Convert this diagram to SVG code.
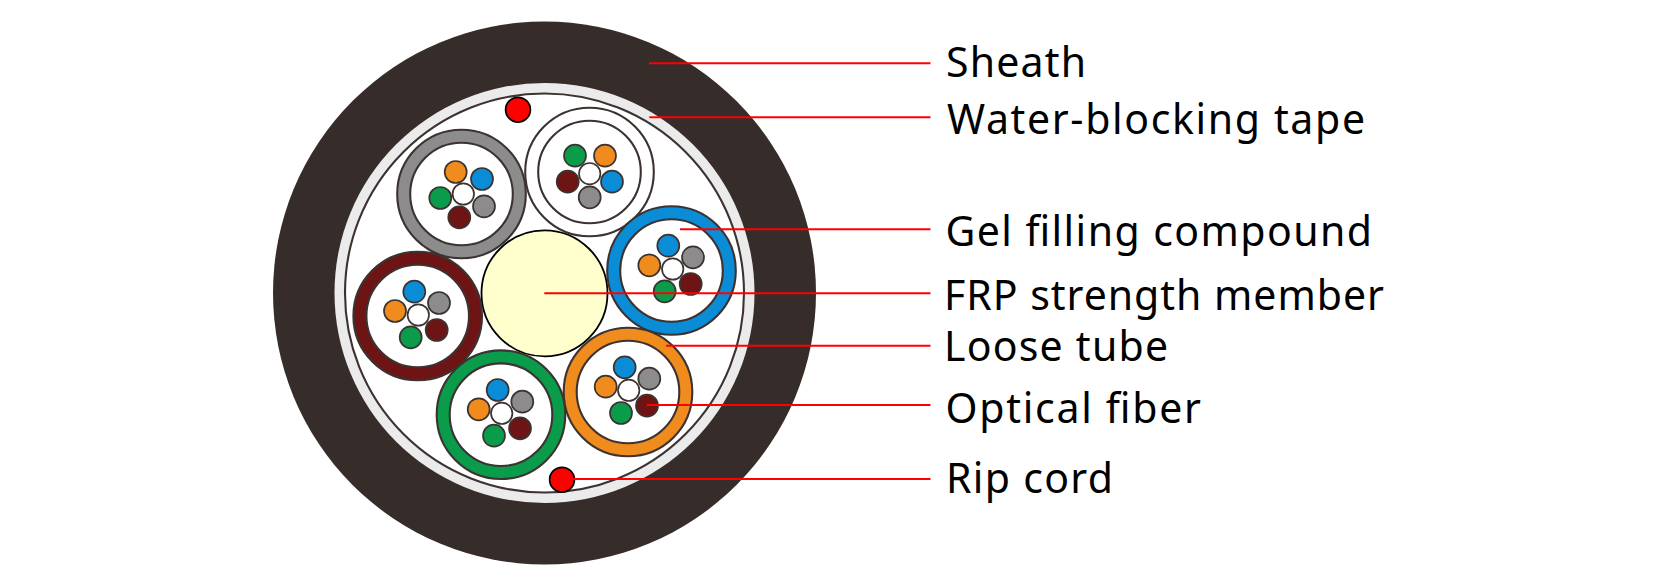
<svg xmlns="http://www.w3.org/2000/svg" width="1655" height="587" viewBox="0 0 1655 587">
<style>
.s{stroke:#3c3331;stroke-width:2.1}
.t{stroke:#3c3331;stroke-width:2.1;fill:#fff}
.f{stroke:#3c3331;stroke-width:1.7}
.o{fill:#f08c1e}.b{fill:#0a8cd7}.g{fill:#0a9b4b}.m{fill:#6e1414}.y{fill:#8c8c8c}.w{fill:#fff}
.c{stroke:#ff0000;stroke-width:2;fill:none}
.l{font-family:"Noto Sans","Open Sans",sans-serif;font-size:41px;fill:#000}
</style>
<rect width="1655" height="587" fill="#fff"/>
<g id="sheath"><circle cx="544.5" cy="293" r="271.5" fill="#362c2a"/></g>
<g id="water-blocking-tape"><circle cx="544.5" cy="293" r="210" fill="#ebebeb"/><circle cx="544.5" cy="293" r="199.5" fill="#fff" stroke="#3c3331" stroke-width="2.1"/></g>
<g id="rip-cord-top"><circle cx="518" cy="109.7" r="12.4" fill="#ff0000" stroke="#000" stroke-width="1.7"/></g>
<g id="rip-cord-bottom"><circle cx="562" cy="479.7" r="12.4" fill="#ff0000" stroke="#000" stroke-width="1.7"/></g>
<g id="frp"><circle cx="544.5" cy="293.3" r="63" fill="#ffffcd" stroke="#000" stroke-width="1.8"/></g>
<g id="tube-gray"><circle class="s y" cx="461.5" cy="194" r="64.3"/><circle class="t" cx="461.5" cy="194" r="51.3"/>
<circle class="f o" cx="455.7" cy="172" r="11"/><circle class="f b" cx="482" cy="179" r="11"/><circle class="f y" cx="484" cy="206.3" r="11"/><circle class="f m" cx="459.3" cy="217.3" r="11"/><circle class="f g" cx="440.3" cy="198" r="11"/><circle class="f w" cx="463.3" cy="194" r="10.7"/></g>
<g id="tube-white"><circle class="t" cx="589.5" cy="172" r="64.3"/><circle class="t" cx="589.5" cy="172" r="51.3"/>
<circle class="f g" cx="575" cy="155.7" r="11"/><circle class="f o" cx="605" cy="155.7" r="11"/><circle class="f b" cx="612" cy="181.7" r="11"/><circle class="f y" cx="589.7" cy="197.3" r="11"/><circle class="f m" cx="567.7" cy="181.7" r="11"/><circle class="f w" cx="589.7" cy="173.7" r="10.7"/></g>
<g id="tube-blue"><circle class="s b" cx="671.5" cy="270.5" r="64.3"/><circle class="t" cx="671.5" cy="270.5" r="51.3"/>
<circle class="f b" cx="668.3" cy="245.7" r="11"/><circle class="f y" cx="693" cy="257.3" r="11"/><circle class="f o" cx="649.3" cy="265.3" r="11"/><circle class="f m" cx="690.7" cy="284" r="11"/><circle class="f g" cx="664.7" cy="291.3" r="11"/><circle class="f w" cx="672.7" cy="269" r="10.7"/></g>
<g id="tube-maroon"><circle class="s m" cx="417.7" cy="316" r="64.3"/><circle class="t" cx="417.7" cy="316" r="51.3"/>
<circle class="f b" cx="414.3" cy="291.7" r="11"/><circle class="f y" cx="439" cy="303" r="11"/><circle class="f o" cx="395" cy="311" r="11"/><circle class="f m" cx="436.7" cy="330" r="11"/><circle class="f g" cx="410.7" cy="337.3" r="11"/><circle class="f w" cx="418.3" cy="315" r="10.7"/></g>
<g id="tube-green"><circle class="s g" cx="501" cy="414.7" r="64.3"/><circle class="t" cx="501" cy="414.7" r="51.3"/>
<circle class="f b" cx="497.7" cy="390" r="11"/><circle class="f y" cx="522.3" cy="401.7" r="11"/><circle class="f o" cx="478.7" cy="409.3" r="11"/><circle class="f m" cx="520" cy="428.3" r="11"/><circle class="f g" cx="494" cy="435.7" r="11"/><circle class="f w" cx="501.7" cy="413.3" r="10.7"/></g>
<g id="tube-orange"><circle class="s o" cx="628" cy="392" r="64.3"/><circle class="t" cx="628" cy="392" r="51.3"/>
<circle class="f b" cx="624.7" cy="367.3" r="11"/><circle class="f y" cx="649.3" cy="378.7" r="11"/><circle class="f o" cx="605.7" cy="386.7" r="11"/><circle class="f m" cx="647" cy="405.7" r="11"/><circle class="f g" cx="621" cy="413" r="11"/><circle class="f w" cx="628.7" cy="390.3" r="10.7"/></g>
<g id="connectors">
<line class="c" x1="649" y1="63.3" x2="930.5" y2="63.3"/>
<line class="c" x1="649.3" y1="117.3" x2="930.5" y2="117.3"/>
<line class="c" x1="680" y1="229.3" x2="930.5" y2="229.3"/>
<line class="c" x1="544.3" y1="293.3" x2="930.5" y2="293.3"/>
<line class="c" x1="666" y1="345.7" x2="930.5" y2="345.7"/>
<line class="c" x1="646.7" y1="405" x2="930.5" y2="405"/>
<line class="c" x1="573" y1="479" x2="930.5" y2="479"/>
</g>
<g id="labels">
<text class="l" x="946" y="77" textLength="140" lengthAdjust="spacing">Sheath</text>
<text class="l" x="947" y="134" textLength="418" lengthAdjust="spacing">Water-blocking tape</text>
<text class="l" x="945.5" y="246" textLength="426.5" lengthAdjust="spacing">Gel filling compound</text>
<text class="l" x="944" y="310" textLength="440" lengthAdjust="spacing">FRP strength member</text>
<text class="l" x="944" y="361" textLength="224" lengthAdjust="spacing">Loose tube</text>
<text class="l" x="945.5" y="423" textLength="255.5" lengthAdjust="spacing">Optical fiber</text>
<text class="l" x="946" y="493" textLength="167" lengthAdjust="spacing">Rip cord</text>
</g>
</svg>
